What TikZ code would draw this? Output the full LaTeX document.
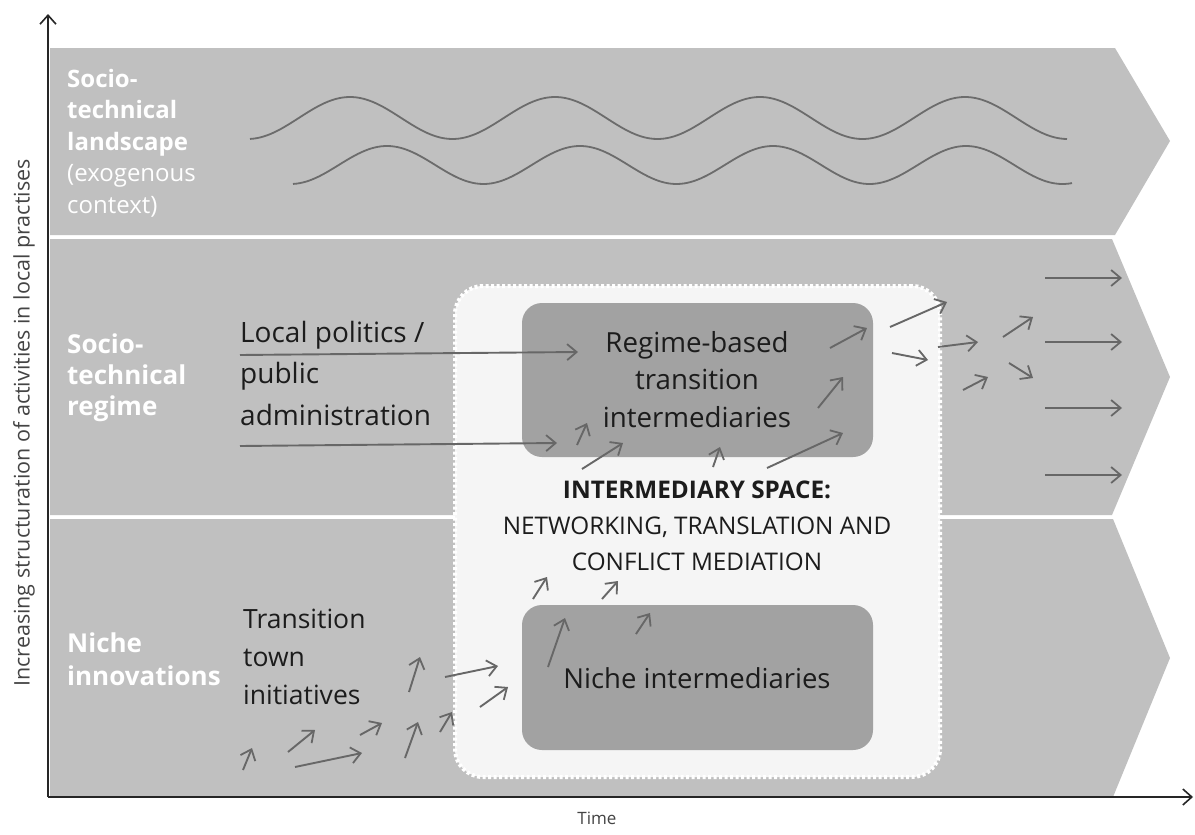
\documentclass[tikz,border=0pt]{standalone}
\usepackage{fontspec}
\setmainfont{Open Sans}
\usetikzlibrary{arrows.meta}
\definecolor{bandgray}{HTML}{C0C0C0}
\definecolor{boxgray}{HTML}{A2A2A2}
\definecolor{spacefill}{HTML}{F5F5F5}
\definecolor{arrgray}{HTML}{676767}
\definecolor{wavegray}{HTML}{6C6C6C}
\definecolor{textdark}{HTML}{1C1C1C}
\definecolor{axisgray}{HTML}{444444}
\begin{document}
\begin{tikzpicture}[x=1pt,y=-1pt,
  bandlabel/.style={anchor=base west,inner sep=0pt,align=left,text=white,font=\bfseries},
  darktext/.style={inner sep=0pt,text=textdark},
  ibox/.style={fill=boxgray,rounded corners=20pt,inner sep=0pt},
  arr/.style={draw=arrgray,line width=1.9pt,-{Straight Barb[length=9.5pt,width=16pt,line width=1.8pt]}},
  axisline/.style={draw=black!85,line width=1.8pt,-{Straight Barb[length=9pt,width=16pt,line width=1.6pt]}},
  wave/.style={draw=wavegray,line width=1.8pt}]
\useasboundingbox (0,0) rectangle (1195,835);
\fill[white] (0,0) rectangle (1195,835);
% bands
\fill[bandgray] (50,48) -- (1115,48) -- (1170,141) -- (1115,235) -- (50,235) -- cycle;
\fill[bandgray] (50,239) -- (1112,239) -- (1170,377) -- (1112,515) -- (50,515) -- cycle;
\fill[bandgray] (50,519) -- (1113,519) -- (1170,658) -- (1113,797) -- (50,797) -- cycle;
% waves
\draw[wave] plot[domain=250:1067,samples=240,smooth] (\x,{118-21*cos((\x-350)*1.7561)});
\draw[wave] plot[domain=293:1072,samples=240,smooth] (\x,{165-19*cos((\x-387)*1.8653)});
% band labels (anchor = baseline of last line)
\node[bandlabel,font=\fontsize{24}{31.5}\selectfont] (land) at (67,213)
  {\textbf{Socio-}\\\textbf{technical}\\\textbf{landscape}\\(exogenous\\context)};
\node[bandlabel,font=\bfseries\fontsize{26}{31}\selectfont] (reg) at (67,415) {Socio-\\technical\\regime};
\node[bandlabel,font=\bfseries\fontsize{26}{33}\selectfont] (nich) at (67,685) {Niche\\innovations};
% intermediary space
\node[fill=spacefill,draw=white,line width=4pt,dash pattern=on 3pt off 2.5pt,rounded corners=28pt,
  minimum width=485pt,minimum height=491pt,inner sep=0pt] (ispace) at (697.5,531.5) {};
% boxes
\node[ibox,minimum width=351pt,minimum height=154pt] (regbox) at (697.5,380) {};
\node[ibox,minimum width=351pt,minimum height=145pt] (nichebox) at (697.5,677.5) {};
\node[darktext,align=center,anchor=base,font=\fontsize{27.7}{37.5}\selectfont] (regtxt) at (697,427)
  {Regime-based\\transition\\intermediaries};
\node[darktext,anchor=base,font=\fontsize{27.5}{33}\selectfont] (nichetxt) at (697,688) {Niche intermediaries};
\node[darktext,align=center,anchor=base,font=\fontsize{24.3}{36}\selectfont] (spacetxt) at (697,570)
  {\textbf{INTERMEDIARY SPACE:}\\NETWORKING, TRANSLATION AND\\CONFLICT MEDIATION};
% left texts
\node[darktext,align=left,anchor=base west,font=\fontsize{28}{41.5}\selectfont] (politics) at (240,425)
  {Local politics /\\public\\administration};
\node[darktext,align=left,anchor=base west,font=\fontsize{26.5}{38}\selectfont] (ttown) at (243,704)
  {Transition\\town\\initiatives};
% input arrows
\coordinate (p1s) at (240,355); \coordinate (p1e) at (578,352);
\coordinate (p2s) at (240,446); \coordinate (p2e) at (557,443);
\draw[arr] (p1s) -- (p1e);
\draw[arr] (p2s) -- (p2e);
% small arrows
\foreach \sx/\sy/\ex/\ey [count=\i] in {
  1045/278/1122/278, 1045/342/1122/342, 1045/408/1122/408, 1045/475/1122/475,
  890/327/947/302, 892/353/928/360, 938/347/978/342, 1003/337/1033/317,
  963/390/988/377, 1009/363/1033/378,
  830/348/867/328, 818/408/843/377, 767/468/843/433, 713/467/720/447,
  582/469/623/443, 577/445/587/423,
  243/770/252/748, 288/752/315/730, 295/767/362/753, 360/735/382/723,
  405/758/418/722, 409/692/420/657, 440/732/452/712, 445/677/498/666,
  480/707/508/687, 548/667/565/618, 636/634/650/613, 533/599/547/577,
  602/599/618/581}
{
  \coordinate (as\i) at (\sx,\sy);
  \coordinate (ae\i) at (\ex,\ey);
  \draw[arr] (as\i) -- (ae\i);
}
% axes
\coordinate (orig) at (48,797);
\coordinate (ytip) at (48,14);
\coordinate (xtip) at (1193,797);
\draw[axisline] (orig) -- (ytip);
\draw[axisline] (orig) -- (xtip);
\node[rotate=90,text=axisgray,inner sep=0pt,font=\fontsize{21.5}{23}\selectfont] (ylab) at (24,423)
  {Increasing structuration of activities in local practises};
\node[text=axisgray,inner sep=0pt,font=\fontsize{17}{19}\selectfont] (xlab) at (597,818) {Time};
\end{tikzpicture}
\end{document}
